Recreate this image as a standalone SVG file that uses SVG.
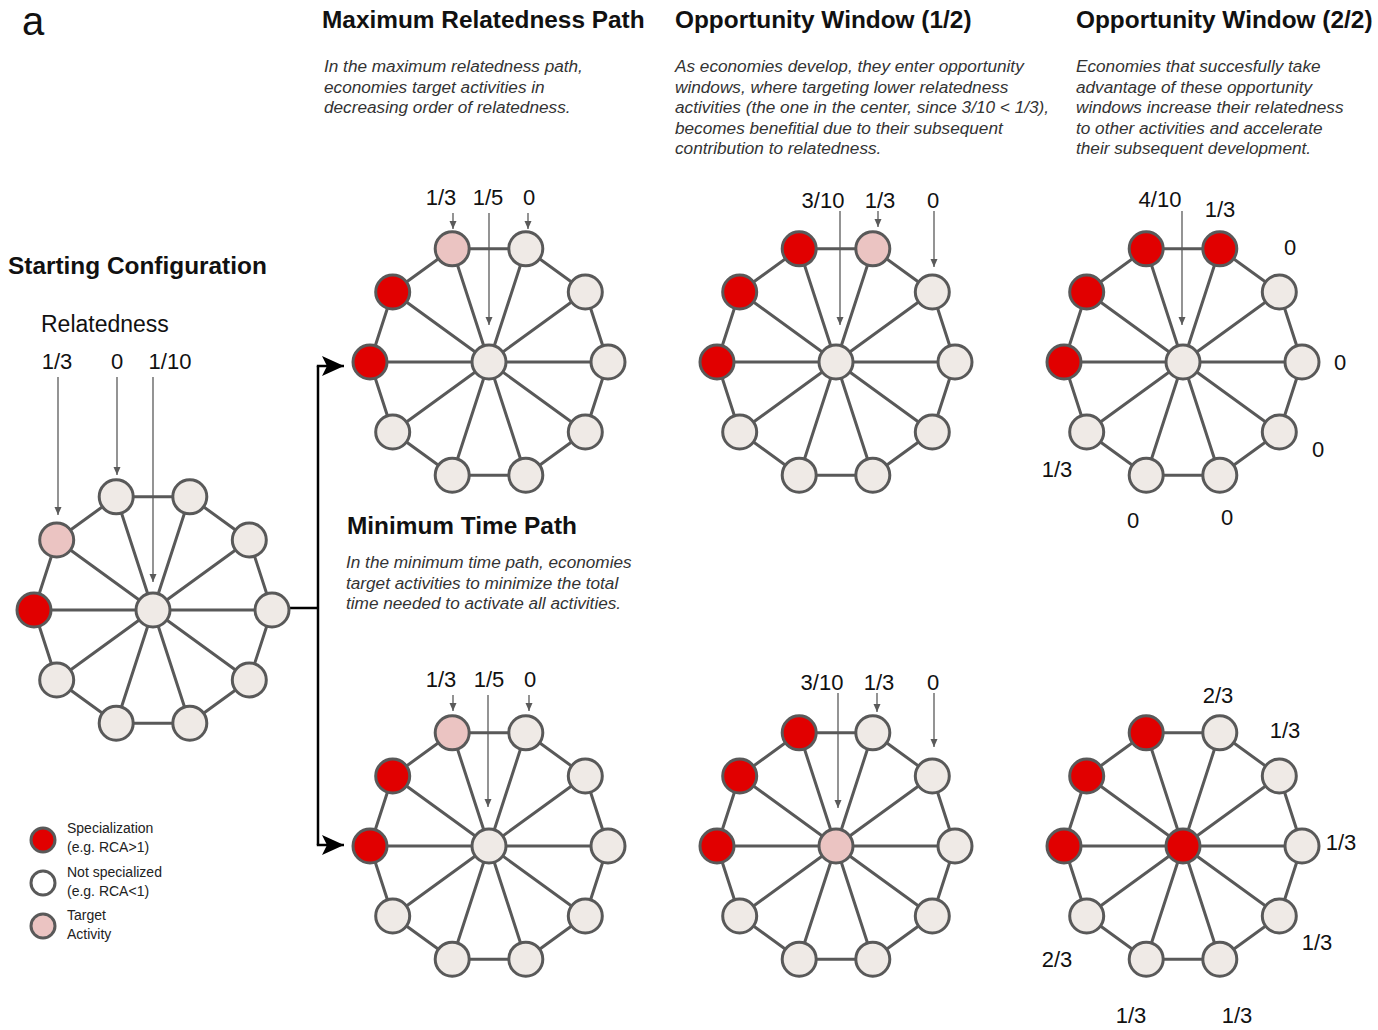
<svg xmlns="http://www.w3.org/2000/svg" xmlns:xlink="http://www.w3.org/1999/xlink" width="1378" height="1030" viewBox="0 0 1378 1030">
<style>
.t{font-family:"Liberation Sans",Arial,sans-serif;fill:#111}
.h{font-weight:bold;font-size:24.4px}
.d{font-style:italic;font-size:17.2px;fill:#333}
.lb{font-size:22px;text-anchor:middle}
.lg{font-size:14px;fill:#222}
.e{fill:none;stroke:#595959;stroke-width:3}
.ar{fill:none;stroke:#5a5a5a;stroke-width:1.3}
.n{stroke:#595959;stroke-width:3}
.l{fill:#EFEAE6}
.r{fill:#E10000}
.p{fill:#EBC4C2}
.w{fill:#ffffff}
</style>
<defs>
<marker id="ah" markerUnits="userSpaceOnUse" markerWidth="9" markerHeight="8" refX="8" refY="3.5" orient="auto">
<path d="M0,0 L8,3.5 L0,7 Z" fill="#5a5a5a"/>
</marker>
<marker id="big" markerUnits="userSpaceOnUse" markerWidth="24" markerHeight="22" refX="22" refY="10" orient="auto">
<path d="M0,0 L22,10 L0,20 L5,10 Z" fill="#000"/>
</marker>
<path id="wheel" class="e" d="M119,0 L96.3,70 L36.8,113.2 L-36.8,113.2 L-96.3,70 L-119,0 L-96.3,-70 L-36.8,-113.2 L36.8,-113.2 L96.3,-70 Z M0,0 L119,0 M0,0 L96.3,70 M0,0 L36.8,113.2 M0,0 L-36.8,113.2 M0,0 L-96.3,70 M0,0 L-119,0 M0,0 L-96.3,-70 M0,0 L-36.8,-113.2 M0,0 L36.8,-113.2 M0,0 L96.3,-70"/>
</defs>

<g id="titles">
<text class="t" x="22" y="35" font-size="40">a</text>
<text class="t h" x="322" y="28">Maximum Relatedness Path</text>
<text class="t h" x="675" y="28">Opportunity Window (1/2)</text>
<text class="t h" x="1076" y="28">Opportunity Window (2/2)</text>
<text class="t h" x="8" y="274">Starting Configuration</text>
<text class="t h" x="347" y="534">Minimum Time Path</text>
<text class="t" x="41" y="332" font-size="23">Relatedness</text>
</g>
<g id="descriptions">
<text class="t d" x="324" y="72">In the maximum relatedness path,</text>
<text class="t d" x="324" y="92.5">economies target activities in</text>
<text class="t d" x="324" y="113">decreasing order of relatedness.</text>
<text class="t d" x="675" y="72">As economies develop, they enter opportunity</text>
<text class="t d" x="675" y="92.5">windows, where targeting lower relatedness</text>
<text class="t d" x="675" y="113">activities (the one in the center, since 3/10 &lt; 1/3),</text>
<text class="t d" x="675" y="133.5">becomes benefitial due to their subsequent</text>
<text class="t d" x="675" y="154">contribution to relatedness.</text>
<text class="t d" x="1076" y="72">Economies that succesfully take</text>
<text class="t d" x="1076" y="92.5">advantage of these opportunity</text>
<text class="t d" x="1076" y="113">windows increase their relatedness</text>
<text class="t d" x="1076" y="133.5">to other activities and accelerate</text>
<text class="t d" x="1076" y="154">their subsequent development.</text>
<text class="t d" x="346" y="568">In the minimum time path, economies</text>
<text class="t d" x="346" y="588.5">target activities to minimize the total</text>
<text class="t d" x="346" y="609">time needed to activate all activities.</text>
</g>
<g id="value-labels">
<text class="t lb" x="57" y="369">1/3</text>
<text class="t lb" x="117" y="369">0</text>
<text class="t lb" x="170" y="369">1/10</text>
<text class="t lb" x="441" y="205">1/3</text>
<text class="t lb" x="488" y="205">1/5</text>
<text class="t lb" x="529" y="205">0</text>
<text class="t lb" x="823" y="208">3/10</text>
<text class="t lb" x="880" y="208">1/3</text>
<text class="t lb" x="933" y="208">0</text>
<text class="t lb" x="1160" y="207">4/10</text>
<text class="t lb" x="1220" y="217">1/3</text>
<text class="t lb" x="1290" y="255">0</text>
<text class="t lb" x="1340" y="370">0</text>
<text class="t lb" x="1318" y="457">0</text>
<text class="t lb" x="1057" y="477">1/3</text>
<text class="t lb" x="1133" y="528">0</text>
<text class="t lb" x="1227" y="525">0</text>
<text class="t lb" x="441" y="687">1/3</text>
<text class="t lb" x="489" y="687">1/5</text>
<text class="t lb" x="530" y="687">0</text>
<text class="t lb" x="822" y="690">3/10</text>
<text class="t lb" x="879" y="690">1/3</text>
<text class="t lb" x="933" y="690">0</text>
<text class="t lb" x="1218" y="703">2/3</text>
<text class="t lb" x="1285" y="738">1/3</text>
<text class="t lb" x="1341" y="850">1/3</text>
<text class="t lb" x="1317" y="950">1/3</text>
<text class="t lb" x="1057" y="967">2/3</text>
<text class="t lb" x="1131" y="1023">1/3</text>
<text class="t lb" x="1237" y="1023">1/3</text>
</g>

<g id="connectors">
<use href="#wheel" xlink:href="#wheel" x="153" y="610"/>
<use href="#wheel" xlink:href="#wheel" x="489" y="362"/>
<use href="#wheel" xlink:href="#wheel" x="836" y="362"/>
<use href="#wheel" xlink:href="#wheel" x="1183" y="362"/>
<use href="#wheel" xlink:href="#wheel" x="489" y="846"/>
<use href="#wheel" xlink:href="#wheel" x="836" y="846"/>
<use href="#wheel" xlink:href="#wheel" x="1183" y="846"/>
<path class="ar" marker-end="url(#ah)" d="M58,377 V515"/>
<path class="ar" marker-end="url(#ah)" d="M117,377 V475"/>
<path class="ar" marker-end="url(#ah)" d="M153,377 V582"/>
<path class="ar" marker-end="url(#ah)" d="M453,213 V229"/>
<path class="ar" marker-end="url(#ah)" d="M489,213 V325"/>
<path class="ar" marker-end="url(#ah)" d="M528,213 V229"/>
<path class="ar" marker-end="url(#ah)" d="M840,211 V325"/>
<path class="ar" marker-end="url(#ah)" d="M878,211 V227"/>
<path class="ar" marker-end="url(#ah)" d="M934,211 V267"/>
<path class="ar" marker-end="url(#ah)" d="M1182,211 V325"/>
<path class="ar" marker-end="url(#ah)" d="M453,695 V711"/>
<path class="ar" marker-end="url(#ah)" d="M488,695 V807"/>
<path class="ar" marker-end="url(#ah)" d="M529,695 V711"/>
<path class="ar" marker-end="url(#ah)" d="M838,693 V808"/>
<path class="ar" marker-end="url(#ah)" d="M877,693 V712"/>
<path class="ar" marker-end="url(#ah)" d="M934,693 V747"/>
<path fill="none" stroke="#000" stroke-width="2.5" d="M290,608 H318 M318,366 V845"/>
<path fill="none" stroke="#000" stroke-width="2.5" marker-end="url(#big)" d="M316.8,366 H344"/>
<path fill="none" stroke="#000" stroke-width="2.5" marker-end="url(#big)" d="M316.8,845 H344"/>
</g>

<g id="wheel-start" transform="translate(153,610)">
<g id="s-c"><circle class="n l" r="17"/></g>
<g id="s-0"><circle class="n l" cx="119" cy="0" r="17"/></g>
<g id="s-1"><circle class="n l" cx="96.3" cy="70" r="17"/></g>
<g id="s-2"><circle class="n l" cx="36.8" cy="113.2" r="17"/></g>
<g id="s-3"><circle class="n l" cx="-36.8" cy="113.2" r="17"/></g>
<g id="s-4"><circle class="n l" cx="-96.3" cy="70" r="17"/></g>
<g id="s-5"><circle class="n r" cx="-119" cy="0" r="17"/></g>
<g id="s-6"><circle class="n p" cx="-96.3" cy="-70" r="17"/></g>
<g id="s-7"><circle class="n l" cx="-36.8" cy="-113.2" r="17"/></g>
<g id="s-8"><circle class="n l" cx="36.8" cy="-113.2" r="17"/></g>
<g id="s-9"><circle class="n l" cx="96.3" cy="-70" r="17"/></g>
</g>

<g id="wheel-maxrel" transform="translate(489,362)">
<g id="m-c"><circle class="n l" r="17"/></g>
<g id="m-0"><circle class="n l" cx="119" cy="0" r="17"/></g>
<g id="m-1"><circle class="n l" cx="96.3" cy="70" r="17"/></g>
<g id="m-2"><circle class="n l" cx="36.8" cy="113.2" r="17"/></g>
<g id="m-3"><circle class="n l" cx="-36.8" cy="113.2" r="17"/></g>
<g id="m-4"><circle class="n l" cx="-96.3" cy="70" r="17"/></g>
<g id="m-5"><circle class="n r" cx="-119" cy="0" r="17"/></g>
<g id="m-6"><circle class="n r" cx="-96.3" cy="-70" r="17"/></g>
<g id="m-7"><circle class="n p" cx="-36.8" cy="-113.2" r="17"/></g>
<g id="m-8"><circle class="n l" cx="36.8" cy="-113.2" r="17"/></g>
<g id="m-9"><circle class="n l" cx="96.3" cy="-70" r="17"/></g>
</g>

<g id="wheel-ow1-top" transform="translate(836,362)">
<g id="a-c"><circle class="n l" r="17"/></g>
<g id="a-0"><circle class="n l" cx="119" cy="0" r="17"/></g>
<g id="a-1"><circle class="n l" cx="96.3" cy="70" r="17"/></g>
<g id="a-2"><circle class="n l" cx="36.8" cy="113.2" r="17"/></g>
<g id="a-3"><circle class="n l" cx="-36.8" cy="113.2" r="17"/></g>
<g id="a-4"><circle class="n l" cx="-96.3" cy="70" r="17"/></g>
<g id="a-5"><circle class="n r" cx="-119" cy="0" r="17"/></g>
<g id="a-6"><circle class="n r" cx="-96.3" cy="-70" r="17"/></g>
<g id="a-7"><circle class="n r" cx="-36.8" cy="-113.2" r="17"/></g>
<g id="a-8"><circle class="n p" cx="36.8" cy="-113.2" r="17"/></g>
<g id="a-9"><circle class="n l" cx="96.3" cy="-70" r="17"/></g>
</g>

<g id="wheel-ow2-top" transform="translate(1183,362)">
<g id="b-c"><circle class="n l" r="17"/></g>
<g id="b-0"><circle class="n l" cx="119" cy="0" r="17"/></g>
<g id="b-1"><circle class="n l" cx="96.3" cy="70" r="17"/></g>
<g id="b-2"><circle class="n l" cx="36.8" cy="113.2" r="17"/></g>
<g id="b-3"><circle class="n l" cx="-36.8" cy="113.2" r="17"/></g>
<g id="b-4"><circle class="n l" cx="-96.3" cy="70" r="17"/></g>
<g id="b-5"><circle class="n r" cx="-119" cy="0" r="17"/></g>
<g id="b-6"><circle class="n r" cx="-96.3" cy="-70" r="17"/></g>
<g id="b-7"><circle class="n r" cx="-36.8" cy="-113.2" r="17"/></g>
<g id="b-8"><circle class="n r" cx="36.8" cy="-113.2" r="17"/></g>
<g id="b-9"><circle class="n l" cx="96.3" cy="-70" r="17"/></g>
</g>

<g id="wheel-mintime" transform="translate(489,846)">
<g id="t-c"><circle class="n l" r="17"/></g>
<g id="t-0"><circle class="n l" cx="119" cy="0" r="17"/></g>
<g id="t-1"><circle class="n l" cx="96.3" cy="70" r="17"/></g>
<g id="t-2"><circle class="n l" cx="36.8" cy="113.2" r="17"/></g>
<g id="t-3"><circle class="n l" cx="-36.8" cy="113.2" r="17"/></g>
<g id="t-4"><circle class="n l" cx="-96.3" cy="70" r="17"/></g>
<g id="t-5"><circle class="n r" cx="-119" cy="0" r="17"/></g>
<g id="t-6"><circle class="n r" cx="-96.3" cy="-70" r="17"/></g>
<g id="t-7"><circle class="n p" cx="-36.8" cy="-113.2" r="17"/></g>
<g id="t-8"><circle class="n l" cx="36.8" cy="-113.2" r="17"/></g>
<g id="t-9"><circle class="n l" cx="96.3" cy="-70" r="17"/></g>
</g>

<g id="wheel-ow1-bottom" transform="translate(836,846)">
<g id="u-c"><circle class="n p" r="17"/></g>
<g id="u-0"><circle class="n l" cx="119" cy="0" r="17"/></g>
<g id="u-1"><circle class="n l" cx="96.3" cy="70" r="17"/></g>
<g id="u-2"><circle class="n l" cx="36.8" cy="113.2" r="17"/></g>
<g id="u-3"><circle class="n l" cx="-36.8" cy="113.2" r="17"/></g>
<g id="u-4"><circle class="n l" cx="-96.3" cy="70" r="17"/></g>
<g id="u-5"><circle class="n r" cx="-119" cy="0" r="17"/></g>
<g id="u-6"><circle class="n r" cx="-96.3" cy="-70" r="17"/></g>
<g id="u-7"><circle class="n r" cx="-36.8" cy="-113.2" r="17"/></g>
<g id="u-8"><circle class="n l" cx="36.8" cy="-113.2" r="17"/></g>
<g id="u-9"><circle class="n l" cx="96.3" cy="-70" r="17"/></g>
</g>

<g id="wheel-ow2-bottom" transform="translate(1183,846)">
<g id="v-c"><circle class="n r" r="17"/></g>
<g id="v-0"><circle class="n l" cx="119" cy="0" r="17"/></g>
<g id="v-1"><circle class="n l" cx="96.3" cy="70" r="17"/></g>
<g id="v-2"><circle class="n l" cx="36.8" cy="113.2" r="17"/></g>
<g id="v-3"><circle class="n l" cx="-36.8" cy="113.2" r="17"/></g>
<g id="v-4"><circle class="n l" cx="-96.3" cy="70" r="17"/></g>
<g id="v-5"><circle class="n r" cx="-119" cy="0" r="17"/></g>
<g id="v-6"><circle class="n r" cx="-96.3" cy="-70" r="17"/></g>
<g id="v-7"><circle class="n r" cx="-36.8" cy="-113.2" r="17"/></g>
<g id="v-8"><circle class="n l" cx="36.8" cy="-113.2" r="17"/></g>
<g id="v-9"><circle class="n l" cx="96.3" cy="-70" r="17"/></g>
</g>

<g id="legend">
<g id="legend-spec"><circle class="n r" cx="43" cy="840" r="12"/>
<text class="t lg" x="67" y="833">Specialization</text>
<text class="t lg" x="67" y="852">(e.g. RCA&gt;1)</text></g>
<g id="legend-notspec"><circle class="n w" cx="43" cy="883" r="12"/>
<text class="t lg" x="67" y="877">Not specialized</text>
<text class="t lg" x="67" y="896">(e.g. RCA&lt;1)</text></g>
<g id="legend-target"><circle class="n p" cx="43" cy="926" r="12"/>
<text class="t lg" x="67" y="920">Target</text>
<text class="t lg" x="67" y="939">Activity</text></g>
</g>
</svg>
